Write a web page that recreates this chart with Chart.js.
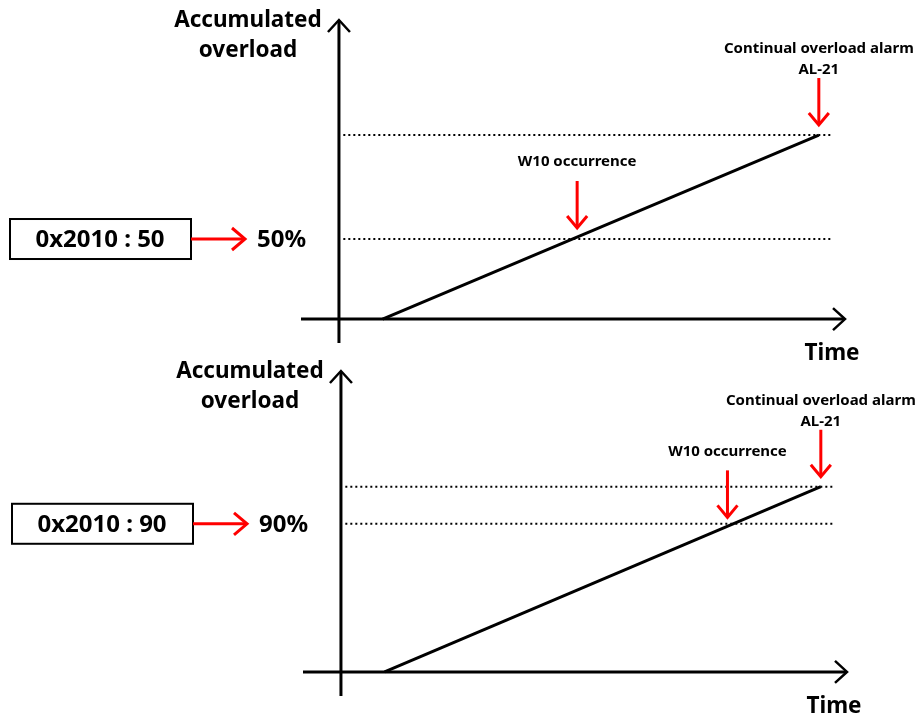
<!DOCTYPE html>
<html><head><meta charset="utf-8">
<script src="https://cdn.jsdelivr.net/npm/chart.js@4.4.1/dist/chart.umd.min.js"></script>
<style>
html,body{margin:0;padding:0;background:#fff;}
#wrap{position:relative;width:918px;height:715px;overflow:hidden;}
.panel{position:absolute;left:0;width:918px;}
</style></head><body>
<div id="wrap">
<div class="panel" style="top:0;height:366px"><canvas id="c1"></canvas></div>
<div class="panel" style="top:350px;height:365px"><canvas id="c2"></canvas></div>
</div>
<script>
// ---- data (the diagram is schematic) ----
const settingLabels   = ['0x2010 : 50', '0x2010 : 90'];
const thresholdLabels = ['50%', '90%'];
const thresholdLevels = [43.5, 80];      // warning level as drawn (% of alarm level)
const alarmLevels     = [100, 100];      // continual overload alarm level
const rampStartTimes  = [1, 1];          // time when accumulation starts
const alarmTimes      = [11, 11];        // time when AL-21 occurs
const warnArrowTimes  = [5.46, 8.86];    // where the W10 arrow points
const guideStartTimes = [0.1, 0.1];
const guideEndTimes   = [11.28, 11.28];
const yAxisTitle  = ['Accumulated', 'overload'];
const xAxisTitle  = 'Time';
const warnText    = 'W10 occurrence';
const alarmText   = ['Continual overload alarm', 'AL-21'];

const FONT = '"Noto Sans", "Open Sans", sans-serif';
const RED = '#ff0000';

function chevron(ctx, x, y, dir, half, depth) {
  ctx.beginPath();
  if (dir === 'up')    { ctx.moveTo(x - half, y + depth); ctx.lineTo(x, y); ctx.lineTo(x + half, y + depth); }
  if (dir === 'down')  { ctx.moveTo(x - half, y - depth); ctx.lineTo(x, y); ctx.lineTo(x + half, y - depth); }
  if (dir === 'right') { ctx.moveTo(x - depth, y - half); ctx.lineTo(x, y); ctx.lineTo(x - depth, y + half); }
  ctx.stroke();
}

const diagramPlugin = {
  id: 'diagram',
  afterDatasetsDraw(chart) {
    const i = chart.options.plugins.diagram.index;
    const ctx = chart.ctx;
    const xs = chart.scales.x, ys = chart.scales.y;
    const area = chart.chartArea;
    const x0 = xs.getPixelForValue(0), y0 = ys.getPixelForValue(0);
    ctx.save();
    ctx.lineCap = 'butt'; ctx.lineJoin = 'miter';
    // axes
    ctx.strokeStyle = '#000'; ctx.lineWidth = 3;
    ctx.beginPath(); ctx.moveTo(area.left, y0); ctx.lineTo(area.right - 1, y0); ctx.stroke();
    ctx.beginPath(); ctx.moveTo(x0, area.bottom); ctx.lineTo(x0, area.top + 1); ctx.stroke();
    ctx.lineWidth = 2.5;
    chevron(ctx, area.right, y0, 'right', 11, 12);
    chevron(ctx, x0, area.top, 'up', 11, 12);

    // ramp value helper
    const rampAt = t => alarmLevels[i] * (t - rampStartTimes[i]) / (alarmTimes[i] - rampStartTimes[i]);

    // red vertical arrows
    ctx.strokeStyle = RED; ctx.lineWidth = 3;
    const drawDown = (t, gap) => {
      const x = xs.getPixelForValue(t);
      const tip = ys.getPixelForValue(rampAt(t)) - gap;
      ctx.beginPath(); ctx.moveTo(x, tip - 47); ctx.lineTo(x, tip - 1); ctx.stroke();
      chevron(ctx, x, tip, 'down', 10, 12);
      return { x, top: tip - 47 };
    };
    const w = drawDown(warnArrowTimes[i], 9);
    const a = drawDown(alarmTimes[i], 10);

    // setting box + red horizontal arrow
    const ty = ys.getPixelForValue(thresholdLevels[i]);
    const bx = area.left - 291;
    ctx.strokeStyle = '#000'; ctx.lineWidth = 2;
    ctx.strokeRect(bx, ty - 20, 181, 40);
    ctx.strokeStyle = RED; ctx.lineWidth = 3;
    ctx.beginPath(); ctx.moveTo(bx + 181, ty); ctx.lineTo(area.left - 58, ty); ctx.stroke();
    chevron(ctx, area.left - 56, ty, 'right', 11, 13);

    // texts
    ctx.fillStyle = '#000';
    ctx.textBaseline = 'middle';
    ctx.textAlign = 'center';
    ctx.font = 'bold 24px ' + FONT;
    ctx.fillText(settingLabels[i], bx + 90, ty + 1);
    ctx.textAlign = 'left';
    ctx.fillText(thresholdLabels[i], area.left - 44, ty + 1);
    ctx.textAlign = 'center';
    ctx.font = 'bold 22.5px ' + FONT;
    ctx.fillText(yAxisTitle[0], x0 - 91, area.top + 1);
    ctx.fillText(yAxisTitle[1], x0 - 91, area.top + 31);
    ctx.fillText(xAxisTitle, area.right - 13, y0 + 35);
    ctx.font = 'bold 15px ' + FONT;
    ctx.fillText(warnText, w.x, w.top - 19);
    ctx.fillText(alarmText[0], a.x, a.top - 29);
    ctx.fillText(alarmText[1], a.x, a.top - 8);
    ctx.restore();
  }
};

function makeChart(id, i, pad) {
  const ramp = [{ x: rampStartTimes[i], y: 0 }, { x: alarmTimes[i], y: alarmLevels[i] }];
  const guide = lvl => [{ x: guideStartTimes[i], y: lvl }, { x: guideEndTimes[i], y: lvl }];
  const dotted = { borderColor: '#000', borderWidth: 2, borderDash: [2, 3], pointRadius: 0, fill: false };
  return new Chart(document.getElementById(id), {
    type: 'line',
    data: {
      datasets: [
        Object.assign({ label: 'alarm level', data: guide(alarmLevels[i]) }, dotted),
        Object.assign({ label: 'warning level', data: guide(thresholdLevels[i]) }, dotted),
        { label: 'accumulated overload', data: ramp, borderColor: '#000', borderWidth: 3, pointRadius: 0, fill: false }
      ]
    },
    options: {
      responsive: true, maintainAspectRatio: false, animation: false,
      layout: { padding: pad },
      plugins: { legend: { display: false }, tooltip: { enabled: false }, diagram: { index: i } },
      scales: {
        x: { type: 'linear', min: -0.87, max: 11.6, display: false },
        y: { type: 'linear', min: -13, max: 162.5, display: false }
      }
    },
    plugins: [diagramPlugin]
  });
}
makeChart('c1', 0, { left: 301, right: 73, top: 20, bottom: 23 });
makeChart('c2', 1, { left: 303, right: 71, top: 21, bottom: 19 });
</script>
</body></html>
